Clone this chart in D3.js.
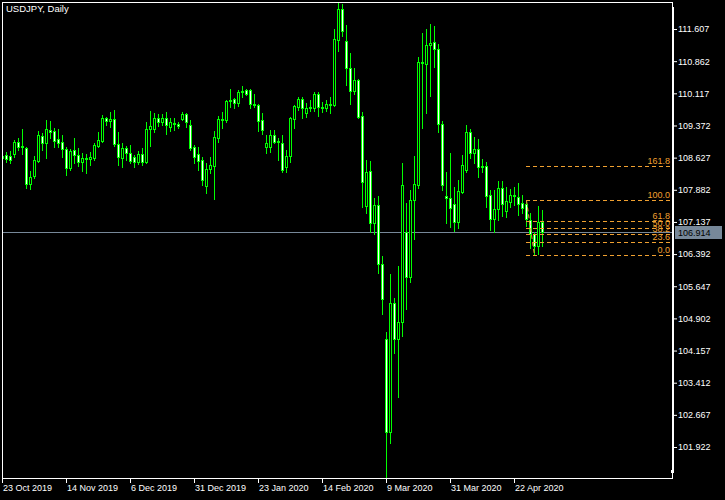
<!DOCTYPE html>
<html>
<head>
<meta charset="utf-8">
<script src="https://cdn.jsdelivr.net/npm/d3@7"></script>
<style>
  html, body { margin: 0; padding: 0; background: #000; }
  svg { display: block; }
  text { font-family: "Liberation Sans", Arial, sans-serif; }
</style>
</head>
<body>
<svg id="chart" width="725" height="500"></svg>
<script>
// ---- data (USDJPY daily, 23 Oct 2019 .. 1 May 2020) ----
const title = "USDJPY, Daily";
const openP = [
108.618,108.688,108.665,108.711,108.989,108.873,108.85,108.016,108.201,108.549,
109.128,108.966,109.267,109.244,109.058,108.989,108.827,108.386,108.804,108.688,
108.526,108.618,108.595,108.618,108.896,109.012,109.545,109.475,109.522,108.943,
108.618,108.85,108.734,108.641,108.526,108.711,108.526,109.29,109.29,109.545,
109.452,109.545,109.336,109.429,109.406,109.522,109.638,109.383,108.873,108.711,
108.572,107.969,108.363,108.433,109.082,109.522,109.499,109.939,109.985,109.892,
110.147,110.194,110.194,109.846,109.846,109.499,108.873,108.873,109.151,108.989,
108.966,108.41,108.665,109.522,109.80,109.985,109.661,109.777,109.777,110.101,
109.80,109.777,109.846,109.846,111.352,112.07,111.329,110.703,110.17,110.425,
109.591,107.506,108.317,107.112,107.529,106.162,104.424,102.27,105.259,104.424,
104.818,106.904,105.861,107.645,107.993,110.842,110.796,111.236,111.306,111.144,
109.406,107.738,107.691,107.552,107.135,107.83,108.34,109.221,108.734,108.827,
108.41,108.433,107.761,107.205,107.437,107.923,107.39,107.599,107.761,107.715,
107.576,107.552,107.182,106.857,106.579,107.135];
const highP = [
108.711,108.757,108.78,109.035,109.082,109.29,108.873,108.317,108.665,109.244,
109.197,109.499,109.475,109.313,109.29,109.151,108.873,108.827,109.082,108.85,
108.734,108.711,108.757,108.966,109.221,109.614,109.568,109.684,109.73,109.221,
108.966,108.896,108.919,108.688,108.78,108.85,109.452,109.707,109.661,109.638,
109.638,109.684,109.545,109.545,109.452,109.684,109.661,109.499,108.919,108.873,
108.641,108.502,108.641,109.244,109.591,109.684,109.962,110.217,110.008,110.194,
110.286,110.217,110.217,110.101,109.869,109.661,109.151,109.267,109.267,109.082,
109.151,108.804,109.568,109.846,110.031,110.031,109.892,109.962,110.147,110.147,
109.916,109.962,110.031,111.607,112.233,112.186,111.70,111.051,110.703,110.449,
109.684,108.572,108.549,107.691,107.738,106.348,104.587,105.93,105.374,106.116,
108.502,107.576,107.877,108.665,110.958,111.514,111.607,111.723,111.677,111.26,
109.475,108.294,108.734,107.946,108.108,108.688,109.383,109.29,109.105,109.058,
108.595,108.526,107.877,107.877,108.085,108.085,107.946,107.90,107.946,108.039,
107.761,107.645,107.344,106.904,107.506,107.413];
const lowP = [
108.456,108.526,108.502,108.641,108.804,108.711,107.923,107.90,108.155,108.526,
108.804,108.618,109.082,108.873,108.873,108.641,108.224,108.34,108.502,108.433,
108.317,108.271,108.456,108.572,108.873,108.989,109.383,109.336,108.896,108.456,
108.41,108.572,108.502,108.41,108.479,108.456,108.502,108.896,109.221,109.36,
109.383,109.174,109.244,109.267,109.313,109.499,109.336,108.804,108.502,108.34,
107.993,107.807,108.271,107.668,108.989,109.313,109.452,109.80,109.777,109.823,
110.031,110.078,109.777,109.80,109.244,109.174,108.734,108.757,108.966,108.572,
108.294,108.294,108.526,109.313,109.73,109.545,109.568,109.707,109.707,109.591,
109.684,109.707,109.661,109.823,111.097,111.445,110.31,109.869,110.101,109.545,
107.483,107.344,106.904,106.857,105.954,105.004,101.204,102.015,104.10,103.081,
104.494,105.12,105.745,106.741,107.923,109.313,109.661,110.055,110.727,109.221,
107.877,107.112,107.019,106.927,106.996,107.807,108.294,108.618,108.502,108.178,
108.294,107.483,106.95,106.904,107.182,107.274,107.251,107.483,107.529,107.297,
107.344,107.043,106.533,106.371,106.394,106.579];
const closeP = [
108.665,108.595,108.572,108.989,108.873,108.896,108.016,108.178,108.572,109.151,
108.966,109.29,109.221,109.012,108.966,108.827,108.386,108.78,108.688,108.526,
108.618,108.595,108.641,108.919,109.035,109.545,109.475,109.522,108.943,108.641,
108.85,108.734,108.549,108.526,108.711,108.526,109.29,109.36,109.545,109.452,
109.545,109.383,109.452,109.406,109.36,109.638,109.452,108.85,108.641,108.549,
108.108,108.363,108.456,109.105,109.522,109.499,109.939,109.962,109.892,110.147,
110.17,110.101,109.869,109.869,109.475,109.267,108.966,109.151,108.989,109.012,
108.34,108.665,109.545,109.823,109.985,109.777,109.777,109.80,110.101,109.80,
109.777,109.869,109.869,111.375,112.07,111.561,110.703,110.17,110.425,109.568,
108.062,108.294,107.112,107.529,106.162,105.351,102.27,105.259,104.424,104.818,
107.993,105.861,107.645,108.016,110.842,110.819,111.236,111.283,111.144,109.406,
107.993,107.691,107.46,107.135,107.854,108.456,109.221,108.734,108.827,108.41,
108.433,107.738,107.205,107.437,107.923,107.552,107.622,107.761,107.738,107.552,
107.46,107.205,106.857,106.579,107.135,106.914];
const dateTickIndex = [0, 16, 32, 48, 64, 80, 96, 112, 128];
const dateTickLabels = ["23 Oct 2019","14 Nov 2019","6 Dec 2019","31 Dec 2019","23 Jan 2020",
                        "14 Feb 2020","9 Mar 2020","31 Mar 2020","22 Apr 2020"];
const priceTicks = [111.607,110.862,110.117,109.372,108.627,107.882,107.137,106.392,
                    105.647,104.902,104.157,103.412,102.667,101.922];
const currentPrice = 106.914;
const fibLevels = [0, 23.6, 38.2, 50.0, 61.8, 100.0, 161.8];
const fibHighIndex = 131, fibLowIndex = 133;

// ---- layout ----
const svg = d3.select("#chart");
const L = 2, T = 2, R = 672, B = 478;
const n = closeP.length;
svg.append("rect").attr("width", 725).attr("height", 500).attr("fill", "#000");

const x = d3.scaleLinear().domain([0, n - 1]).range([2, 2 + 4 * (n - 1)]);
const y = d3.scaleLinear().domain([d3.min(lowP), d3.max(highP)]).range([B, T]);

const GREEN = "#00ff00", ORANGE = "#f0a030", GRAY = "#778899";

svg.append("clipPath").attr("id", "plotclip")
  .append("rect").attr("x", L).attr("y", T).attr("width", R - L).attr("height", B - T);
const plot = svg.append("g").attr("clip-path", "url(#plotclip)");

// current price line
plot.append("line")
  .attr("x1", L).attr("x2", R)
  .attr("y1", Math.round(y(currentPrice)) + 0.5).attr("y2", Math.round(y(currentPrice)) + 0.5)
  .attr("stroke", GRAY).attr("stroke-width", 1);

// candles
const idx = d3.range(n);
const cg = plot.append("g");
idx.forEach(i => {
  const cx = Math.round(x(i));
  const yh = Math.round(y(highP[i])), yl = Math.round(y(lowP[i]));
  cg.append("rect").attr("x", cx).attr("y", yh).attr("width", 1)
    .attr("height", Math.max(1, yl - yh + 1)).attr("fill", GREEN);
  const o = openP[i], c = closeP[i];
  const top = Math.round(y(Math.max(o, c))), bot = Math.round(y(Math.min(o, c)));
  if (bot - top < 1) {
    cg.append("rect").attr("x", cx - 1).attr("y", top).attr("width", 3).attr("height", 1)
      .attr("fill", GREEN);
  } else {
    cg.append("rect").attr("x", cx - 0.5).attr("y", top + 0.5).attr("width", 2)
      .attr("height", bot - top)
      .attr("fill", c < o ? "#ffffff" : "#000000")
      .attr("stroke", GREEN).attr("stroke-width", 1);
  }
});

// fibonacci retracement
const fHi = highP[fibHighIndex], fLo = lowP[fibLowIndex];
const fx0 = Math.round(x(fibHighIndex));
const fg = plot.append("g");
fibLevels.forEach(lv => {
  const p = fLo + (fHi - fLo) * lv / 100;
  const ly = Math.round(y(p)) + 0.5;
  fg.append("line").attr("x1", fx0).attr("x2", R).attr("y1", ly).attr("y2", ly)
    .attr("stroke", ORANGE).attr("stroke-width", 1).attr("stroke-dasharray", "4,3");
  fg.append("text").attr("x", 670).attr("y", ly - 2.5)
    .attr("text-anchor", "end").attr("fill", ORANGE).attr("font-size", 9)
    .text(lv.toFixed(1));
});
fg.append("line")
  .attr("x1", fx0 + 0.5).attr("y1", Math.round(y(fHi)) + 0.5)
  .attr("x2", Math.round(x(fibLowIndex)) + 0.5).attr("y2", Math.round(y(fLo)) + 0.5)
  .attr("stroke", ORANGE).attr("stroke-width", 1).attr("stroke-dasharray", "4,3");

// frame
svg.append("rect").attr("x", L + 0.5).attr("y", T + 0.5).attr("width", R - L).attr("height", B - T)
  .attr("fill", "none").attr("stroke", "#fff").attr("stroke-width", 1);
svg.append("rect").attr("x", R + 1).attr("y", 7).attr("width", 1).attr("height", 465).attr("fill", "#fff");
svg.append("rect").attr("x", R - 1).attr("y", 470).attr("width", 3).attr("height", 3).attr("fill", "#fff");

// price axis
const yAxis = d3.axisRight(y).tickValues(priceTicks).tickSize(3).tickPadding(1)
  .tickFormat(d3.format(".3f"));
const ya = svg.append("g").attr("transform", `translate(${R + 2},0)`).call(yAxis);
ya.select(".domain").remove();
ya.selectAll(".tick line").attr("stroke", "#fff");
ya.selectAll(".tick text").attr("fill", "#fff").attr("font-size", 9)
  .attr("font-family", "Liberation Sans, Arial, sans-serif");

// time axis
const xAxis = d3.axisBottom(x).tickValues(dateTickIndex).tickSize(5)
  .tickFormat((d, k) => dateTickLabels[k]);
const xa = svg.append("g").attr("transform", `translate(0,${B})`).call(xAxis);
xa.select(".domain").remove();
xa.selectAll(".tick line").attr("stroke", "#fff");
xa.selectAll(".tick text").attr("fill", "#fff").attr("font-size", 9)
  .attr("font-family", "Liberation Sans, Arial, sans-serif")
  .attr("text-anchor", "start").attr("x", 0.5).attr("y", 7);

// current price label
const cpY = Math.round(y(currentPrice));
svg.append("rect").attr("x", 675).attr("y", cpY - 6).attr("width", 47).attr("height", 13).attr("fill", GRAY);
svg.append("text").attr("x", 678).attr("y", cpY + 4).attr("fill", "#000").attr("font-size", 9)
  .text(currentPrice.toFixed(3));

// title
svg.append("text").attr("x", 6).attr("y", 12).attr("fill", "#fff").attr("font-size", 9.5).text(title);
</script>
</body>
</html>
